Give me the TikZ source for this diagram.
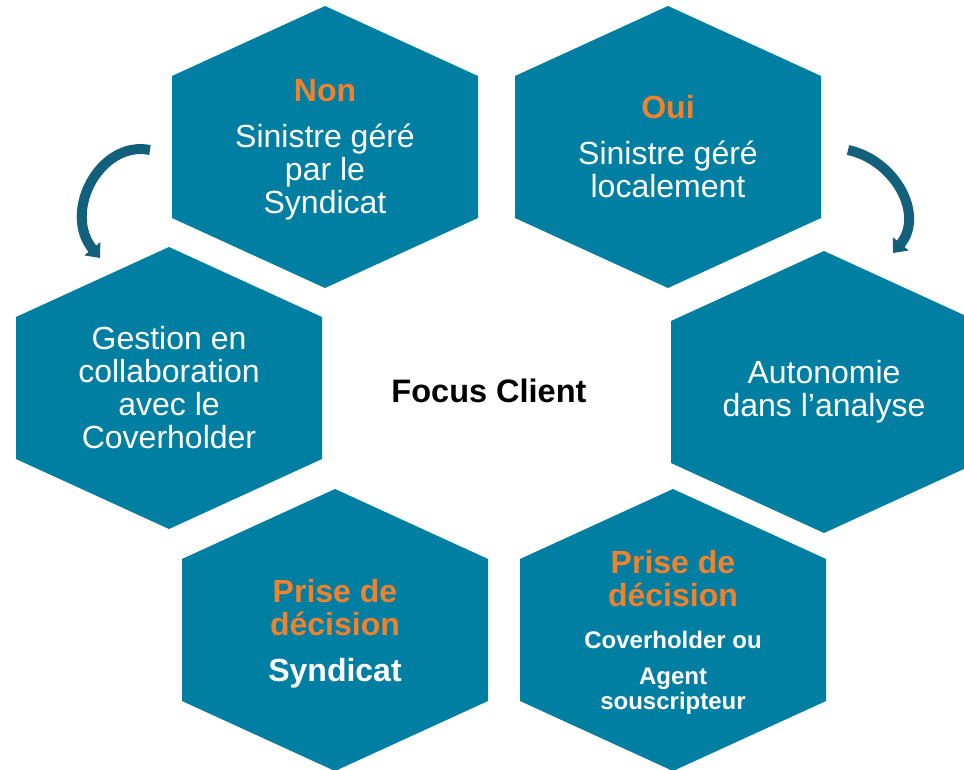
\documentclass[tikz,border=0pt]{standalone}
\usepackage{fontspec}
\setmainfont{Liberation Sans}
\usetikzlibrary{arrows.meta}
\definecolor{hexblue}{RGB}{0,127,163}
\definecolor{accent}{RGB}{240,130,46}
\definecolor{arrowblue}{RGB}{19,96,124}

\begin{document}
\begin{tikzpicture}[x=1pt,y=-1pt,
    hexa/.style={fill=hexblue},
    hextext/.style={text=white,align=center,font=\fontsize{32}{33}\selectfont},
    smalltext/.style={text=white,align=center,font=\bfseries\fontsize{24}{25}\selectfont},
    bendarrow/.style={draw=arrowblue,line width=10pt,-{Triangle[width=20pt,length=12pt]}}]
    % Frame of the picture
    \clip (0,0) rectangle (964,769);

    % Draw the six hexagons
    \foreach \cx/\cy in {325/147, 668/147, 169/388, 824/392, 335/630, 673/630} {
        \fill[hexa] (\cx,\cy) ++(0,-141) -- ++(153,70) -- ++(0,142) -- ++(-153,70) -- ++(-153,-70) -- ++(0,-142) -- cycle;
    }

    % Texts of the hexagons
    \node[hextext] (non) at (325,150) {{\color{accent}\bfseries Non}\\[13pt]Sinistre géré\\par le\\Syndicat};
    \node[hextext] (oui) at (668,147) {{\color{accent}\bfseries Oui}\\[13pt]Sinistre géré\\localement};
    \node[hextext] (gestion) at (169,388) {Gestion en\\collaboration\\avec le\\Coverholder};
    \node[hextext] (autonomie) at (824,392) {Autonomie\\dans l’analyse};
    \node[hextext] (syndicat) at (335,634) {{\color{accent}\bfseries Prise de}\\{\color{accent}\bfseries décision}\\[13pt]{\bfseries Syndicat}};
    \node[hextext] (decision) at (673,579) {{\color{accent}\bfseries Prise de}\\{\color{accent}\bfseries décision}};
    \node[smalltext] (coverholder) at (673,640) {Coverholder ou};
    \node[smalltext] (agent) at (673,691) {Agent\\souscripteur};

    % Centre of the picture
    \node[font=\bfseries\fontsize{32.5}{34}\selectfont] (focus) at (489,391) {Focus Client};

    % Curved arrows
    \coordinate (lstart) at (150,150);
    \coordinate (lend) at (100,258);
    \coordinate (rstart) at (848,150);
    \coordinate (rend) at (893,253);
    \draw[bendarrow] (lstart) .. controls (100,140) and (62,212) .. (lend);
    \draw[bendarrow] (rstart) .. controls (895,160) and (925,215) .. (rend);
\end{tikzpicture}
\end{document}
